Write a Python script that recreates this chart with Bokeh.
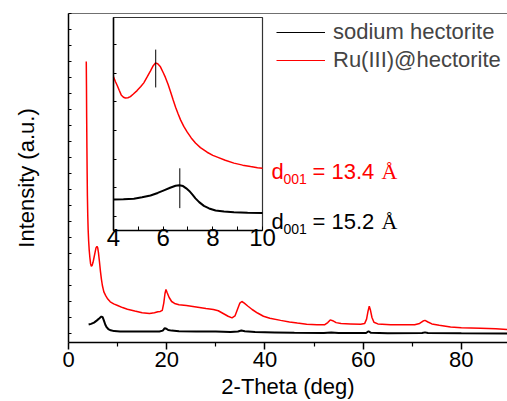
import numpy as np
from bokeh.plotting import figure
from bokeh.models import (Range1d, LinearAxis, FixedTicker, Label, Legend, LegendItem,
                          CustomJSTickFormatter)
from bokeh.embed import file_html
from bokeh.resources import INLINE

# ---------------- data ----------------
ru_x = [3.62, 3.66, 3.70, 3.75, 3.80, 3.85, 3.92, 4.00, 4.10, 4.22, 4.35, 4.50, 4.65, 4.80,
        5.00, 5.20, 5.40, 5.60, 5.80, 5.95, 6.10, 6.30, 6.50, 6.70, 6.90, 7.20, 7.60, 8.00,
        8.50, 9.20, 10.0, 11.0, 12.0, 13.5, 15.0, 16.5, 17.5, 18.2, 18.7, 19.1, 19.4, 19.65,
        19.85, 20.1, 20.5, 21.0, 21.6, 22.5, 24.0, 26.0, 28.0, 29.5, 30.5, 31.5, 32.5, 33.3,
        33.9, 34.4, 34.9, 35.3, 35.8, 36.5, 37.4, 38.5, 39.7, 41.0, 43.2, 45.0, 46.6, 48.5,
        50.6, 52.2, 52.8, 53.3, 53.8, 54.5, 55.5, 57.4, 59.5, 60.3, 60.7, 61.0, 61.25, 61.5,
        61.8, 62.2, 63.0, 65.6, 68.0, 70.5, 71.5, 72.2, 72.6, 73.2, 74.0, 75.5, 77.8, 80.0,
        83.9, 87.0, 89.4]
ru_y = [17.0, 15.5, 13.5, 11.6, 10.0, 8.6, 7.4, 6.5, 5.8, 5.2, 4.75, 4.35, 4.2, 4.25,
        4.45, 4.75, 5.05, 5.35, 5.45, 5.35, 5.05, 4.5, 3.9, 3.4, 3.0, 2.6, 2.35, 2.15,
        1.98, 1.85, 1.75, 1.62, 1.52, 1.40, 1.30, 1.25, 1.30, 1.36, 1.38, 1.45, 1.9, 2.5,
        2.75, 2.55, 2.25, 2.0, 1.88, 1.80, 1.75, 1.66, 1.56, 1.50, 1.42, 1.25, 1.08, 0.98,
        1.1, 1.5, 1.9, 2.0, 1.9, 1.72, 1.5, 1.28, 1.08, 0.95, 0.82, 0.72, 0.65, 0.58,
        0.54, 0.55, 0.68, 0.85, 0.8, 0.68, 0.62, 0.6, 0.58, 0.62, 0.9, 1.4, 1.7, 1.45,
        1.0, 0.7, 0.6, 0.55, 0.54, 0.55, 0.63, 0.78, 0.82, 0.72, 0.6, 0.52, 0.41, 0.36,
        0.33, 0.29, 0.25]

na_x = [4.10, 4.6, 5.2, 5.8, 6.3, 6.7, 6.95, 7.2, 7.5, 7.8, 8.1, 8.6, 9.3, 10.5, 13, 16,
        18.5, 19.2, 19.6, 19.9, 20.3, 21.0, 22.5, 26, 30, 33, 34.5, 35.2, 35.9, 38, 42, 46,
        52, 53.5, 55, 60.6, 61.1, 61.6, 65, 72, 72.6, 73.2, 80, 89.4]
na_y = [0.56, 0.6, 0.68, 0.82, 0.95, 1.06, 1.02, 0.82, 0.55, 0.38, 0.28, 0.2, 0.15, 0.13,
        0.12, 0.12, 0.12, 0.18, 0.33, 0.3, 0.22, 0.18, 0.14, 0.13, 0.12, 0.1, 0.13, 0.19,
        0.14, 0.1, 0.07, 0.04, 0.03, 0.06, 0.03, 0.03, 0.14, 0.04, 0.02, 0.03, 0.07, 0.03,
        0.01, 0.0]

# inset (low-angle region)
ins_ru_x = [4.0, 4.08, 4.15, 4.23, 4.31, 4.40, 4.48, 4.58, 4.68, 4.80, 4.95, 5.10, 5.22,
            5.35, 5.49, 5.60, 5.69, 5.78, 5.89, 6.00, 6.09, 6.20, 6.30, 6.40, 6.50, 6.60,
            6.70, 6.83, 6.97, 7.13, 7.30, 7.50, 7.77, 8.00, 8.18, 8.50, 8.85, 9.20, 9.52,
            9.80, 10.0]
ins_ru_y = [4.87, 4.70, 4.57, 4.40, 4.24, 4.16, 4.13, 4.14, 4.18, 4.27, 4.39, 4.53, 4.66,
            4.86, 5.08, 5.26, 5.35, 5.33, 5.22, 5.02, 4.85, 4.60, 4.34, 4.07, 3.81, 3.58,
            3.37, 3.14, 2.94, 2.74, 2.56, 2.40, 2.24, 2.13, 2.07, 1.96, 1.86, 1.79, 1.74,
            1.70, 1.68]
ins_na_x = [4.0, 4.4, 4.82, 5.15, 5.49, 5.78, 6.03, 6.28, 6.50, 6.65, 6.80, 6.93, 7.05,
            7.18, 7.30, 7.45, 7.64, 7.85, 8.11, 8.45, 8.85, 9.4, 10.0]
ins_na_y = [0.59, 0.60, 0.62, 0.67, 0.73, 0.82, 0.91, 1.00, 1.07, 1.09, 1.06, 0.98, 0.89,
            0.76, 0.63, 0.50, 0.37, 0.28, 0.21, 0.17, 0.15, 0.13, 0.12]

# d001 peak markers
peak_ru_x = 5.7
peak_ru_y = (4.5, 5.82)
peak_na_x = 6.67
peak_na_y = (0.29, 1.68)
d_ru_text = "13.4"
d_na_text = "15.2"

main_x_ticks = [0, 20, 40, 60, 80]
main_x_minor = [10, 30, 50, 70]
inset_x_ticks = [4, 6, 8, 10]
inset_x_minor = [5, 7, 9]

# ---------------- figure ----------------
X0, X1 = 0.0, 89.4
Y0, Y1 = -0.5625, 20.0
FONT = "Liberation Sans"
blank = CustomJSTickFormatter(code="return ''")

p = figure(width=507, height=401, x_range=Range1d(X0, X1), y_range=Range1d(Y0, Y1),
           output_backend="svg", toolbar_location=None, x_axis_type=None, y_axis_type=None,
           min_border_left=68, min_border_right=0, min_border_top=13, min_border_bottom=59)
p.outline_line_color = None
p.background_fill_color = "white"
p.border_fill_color = "white"

xa = LinearAxis(ticker=FixedTicker(ticks=main_x_ticks, minor_ticks=main_x_minor),
                major_tick_out=7, major_tick_in=0, minor_tick_out=4, minor_tick_in=0,
                major_label_text_font=FONT, major_label_text_font_size="22px",
                major_label_text_color="black", major_label_standoff=2,
                axis_line_width=1.5, major_tick_line_width=1.5, minor_tick_line_width=1.2,
                axis_label="2-Theta (deg)", axis_label_text_font=FONT,
                axis_label_text_font_size="22px", axis_label_text_font_style="normal",
                axis_label_text_color="black", axis_label_standoff=4)
p.add_layout(xa, "below")

ya = LinearAxis(ticker=FixedTicker(ticks=list(range(0, 21))), formatter=blank,
                major_tick_in=3, major_tick_out=0, minor_tick_in=0, minor_tick_out=0,
                major_label_text_font_size="1px", major_label_standoff=0, axis_line_width=1.5)
p.add_layout(ya, "left")

ta = LinearAxis(ticker=FixedTicker(ticks=[]), major_tick_in=0, major_tick_out=0,
                minor_tick_in=0, minor_tick_out=0, major_label_text_font_size="1px",
                major_label_standoff=0, axis_line_color="#707070", axis_line_width=1)
p.add_layout(ta, "above")

# inset mapping: inset box inside main data coordinates
bx0, bx1 = 9.164, 39.507
by0, by1 = 6.4375, 19.75
ix0, ix1 = 4.0, 10.0
iy0, iy1 = -0.49, 6.94
sx = (ix1 - ix0) / (bx1 - bx0)
sy = (iy1 - iy0) / (by1 - by0)
p.extra_x_ranges = {"ix": Range1d(ix0 - (bx0 - X0) * sx, ix1 + (X1 - bx1) * sx)}
p.extra_y_ranges = {"iy": Range1d(iy0 - (by0 - Y0) * sy, iy1 + (Y1 - by1) * sy)}

# main curves
p.line(na_x, na_y, line_color="black", line_width=2)
p.line(ru_x, ru_y, line_color="red", line_width=1.5)

# thin single-point proxies for the legend keys (draw nothing in the plot)
key_na = p.line(na_x[:1], na_y[:1], line_color="black", line_width=1)
key_ru = p.line(ru_x[:1], ru_y[:1], line_color="red", line_width=1)

# inset frame and curves
p.quad(left=[ix0], right=[ix1], bottom=[iy0], top=[iy1], x_range_name="ix", y_range_name="iy",
       fill_color="white", line_color="#333333", line_width=1.2)
p.line(ins_ru_x, ins_ru_y, x_range_name="ix", y_range_name="iy", line_color="red", line_width=1.5)
p.line(ins_na_x, ins_na_y, x_range_name="ix", y_range_name="iy", line_color="black", line_width=2)
p.segment(x0=[peak_ru_x, peak_na_x], y0=[peak_ru_y[0], peak_na_y[0]],
          x1=[peak_ru_x, peak_na_x], y1=[peak_ru_y[1], peak_na_y[1]],
          x_range_name="ix", y_range_name="iy", line_color="black", line_width=1)

iax = LinearAxis(x_range_name="ix", y_range_name="iy", fixed_location=iy0, bounds=(ix0, ix1),
                 ticker=FixedTicker(ticks=inset_x_ticks, minor_ticks=inset_x_minor),
                 major_tick_in=4, major_tick_out=0, minor_tick_in=4, minor_tick_out=0,
                 major_label_text_font=FONT, major_label_text_font_size="24px",
                 major_label_text_color="black", major_label_standoff=-2,
                 axis_line_width=1.5)
p.add_layout(iax, "below")

iay = LinearAxis(x_range_name="ix", y_range_name="iy", fixed_location=ix0, bounds=(iy0, iy1),
                 ticker=FixedTicker(ticks=list(range(0, 7))), formatter=blank,
                 major_tick_in=3, major_tick_out=0, minor_tick_in=0, minor_tick_out=0,
                 major_label_text_font_size="1px", major_label_standoff=0, axis_line_width=1.5)
p.add_layout(iay, "left")

# y title on its own (line-less) axis, centred slightly below the frame centre
y_title_center = 9.34
yl = LinearAxis(ticker=FixedTicker(ticks=[]), bounds=(Y0, 2 * y_title_center - Y0),
                axis_line_color=None, major_tick_in=0, major_tick_out=0,
                minor_tick_in=0, minor_tick_out=0, major_label_text_font_size="1px",
                major_label_standoff=0, axis_label="Intensity (a.u.)", axis_label_text_font=FONT,
                axis_label_text_font_size="22px", axis_label_text_font_style="normal",
                axis_label_text_color="black", axis_label_standoff=30)
p.add_layout(yl, "left")

# legend
legend = Legend(items=[LegendItem(label="sodium hectorite", renderers=[key_na]),
                       LegendItem(label="Ru(III)@hectorite", renderers=[key_ru])],
                location=(208, 268), glyph_width=49, glyph_height=28, label_height=28,
                label_standoff=8, spacing=0, padding=0, margin=0,
                border_line_color=None, background_fill_alpha=0,
                label_text_font=FONT, label_text_font_size="22px")
p.add_layout(legend)

# helpers (reference pixel -> main data coords, for annotation text placement only)
def mx(px):
    return (px - 68) / 439 * (X1 - X0) + X0

def my(py):
    return (342 - py) / 329 * (Y1 - Y0) + Y0

def d_label(txt, color, base_py):
    parts = [
        ("d", mx(271), my(base_py), FONT, "22px"),
        ("001", mx(283), my(base_py + 7), FONT, "14px"),
        ("= " + txt, mx(312), my(base_py), FONT, "22px"),
        ("\u00c5", mx(381), my(base_py), "Liberation Serif", "22px"),
    ]
    for t, x, y, f, s in parts:
        p.add_layout(Label(x=x, y=y, text=t, text_font=f, text_font_size=s,
                           text_color=color, text_baseline="alphabetic", text_align="left"))

d_label(d_ru_text, "red", 171)
d_label(d_na_text, "black", 221)

open("out.html", "w").write(file_html(p, INLINE))
